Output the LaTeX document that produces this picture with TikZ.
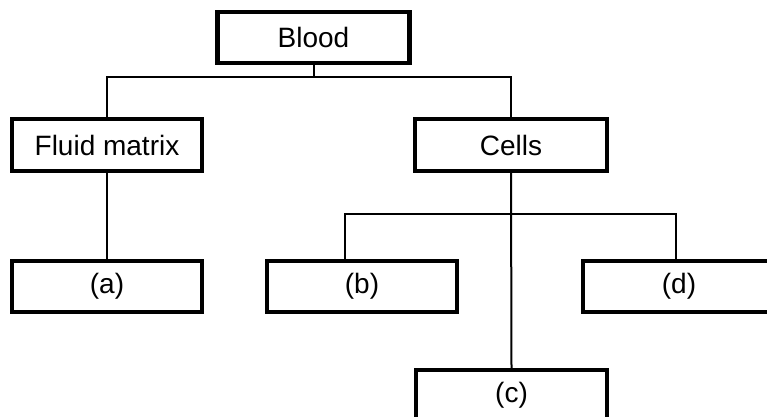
\documentclass[tikz,border=0pt]{standalone}
\usepackage{fontspec}
\setmainfont{Liberation Sans}
\begin{document}
\begin{tikzpicture}[x=1pt,y=-1pt,
  box/.style={draw=black,line width=3.2pt,rectangle,minimum width=191pt,minimum height=51pt,inner sep=0pt,font=\fontsize{28}{34}\selectfont},
  conn/.style={draw=black,line width=2pt}]
\useasboundingbox (0,0) rectangle (767,416);
\clip (0,0) rectangle (767,416);
\node[box,line width=4.5pt,minimum width=192pt] (blood) at (313.5,37.5) {Blood};
\node[box,minimum width=190pt,minimum height=52pt] (fluid) at (107,145) {Fluid matrix};
\node[box,line width=3.8pt,minimum width=192pt,minimum height=52pt] (cells) at (511,145) {Cells};
\node[box,minimum width=190pt] (a) at (107,286.5) {(a)};
\node[box,minimum width=190pt] (b) at (362,286.5) {(b)};
\node[box,minimum width=192pt] (d) at (679,286.5) {(d)};
\node[box] (c) at (511.5,395.5) {(c)};
\coordinate (j1) at (313.5,77);
\coordinate (j2) at (510,214);
\draw[conn] (blood.south) -- (j1);
\draw[conn] (fluid.north) |- (j1) -| (cells.north);
\draw[conn] (fluid.south) -- (a.north);
\draw[conn] (cells.south) -- (c.north);
\draw[conn] ([xshift=-17pt]b.north) |- (j2) -| ([xshift=-3pt]d.north);
\end{tikzpicture}
\end{document}
